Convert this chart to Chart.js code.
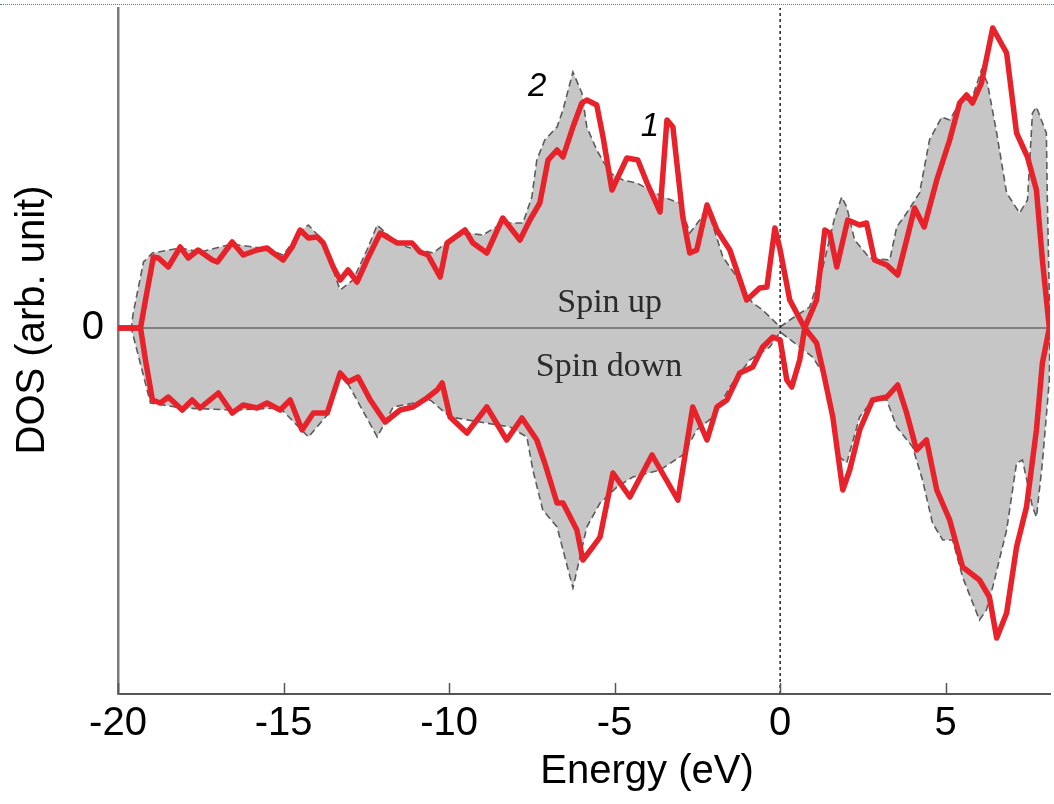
<!DOCTYPE html>
<html>
<head>
<meta charset="utf-8">
<script src="https://cdn.jsdelivr.net/npm/chart.js@4.4.1/dist/chart.umd.min.js"></script>
<style>
  html, body { margin: 0; padding: 0; background: #fff; }
  #wrap { position: relative; width: 1054px; height: 804px; }
  #topRule { position: absolute; left: 0; right: 0; top: 4px; border-top: 1px dotted #4f7f95; }
</style>
</head>
<body>
<div id="wrap">
  <canvas id="dosChart" width="1054" height="804"></canvas>
  <div id="topRule"></div>
</div>
<script>
// Energy axis (eV) and DOS values (arb. unit)
const xTicks = [-20, -15, -10, -5, 0, 5];
const yTicks = [0];
const xTitle = 'Energy (eV)';
const yTitle = 'DOS (arb. unit)';

// red curve, upper branch (spin up side)
const redUpE = [-20.0, -19.32, -19.17, -18.93, -18.78, -18.48, -18.12, -17.88, -17.58, -17.15, -17.00, -16.55, -16.22, -15.80, -15.50, -15.31, -15.01, -14.74, -14.50, -14.25, -13.98, -13.80, -13.50, -13.29, -13.05, -12.78, -12.48, -12.08, -11.87, -11.57, -11.12, -10.88, -10.64, -10.27, -10.06, -9.52, -9.28, -8.86, -8.38, -7.86, -7.56, -7.26, -7.01, -6.74, -6.56, -6.26, -5.99, -5.84, -5.54, -5.35, -5.08, -4.90, -4.63, -4.30, -4.02, -3.63, -3.42, -3.24, -2.94, -2.73, -2.52, -2.21, -1.91, -1.52, -1.01, -0.62, -0.40, -0.16, 0.0, 0.29, 0.74, 1.10, 1.35, 1.50, 1.71, 2.04, 2.40, 2.61, 2.85, 3.22, 3.55, 3.82, 4.06, 4.35, 4.73, 5.12, 5.42, 5.63, 5.81, 6.08, 6.42, 6.84, 7.14, 7.47, 7.74, 7.92, 8.13];
const redUpV = [0, 0, 28, 71, 70, 61, 81, 70, 78, 68, 66, 86, 73, 78, 80, 75, 68, 81, 98, 90, 91, 85, 61, 48, 58, 46, 68, 95, 91, 85, 85, 76, 73, 51, 85, 98, 85, 75, 110, 88, 108, 125, 168, 178, 171, 201, 225, 228, 223, 191, 138, 151, 170, 168, 145, 116, 208, 201, 111, 75, 78, 123, 98, 78, 28, 40, 41, 100, 78, 28, 0, 28, 98, 95, 61, 108, 103, 105, 68, 63, 53, 88, 120, 101, 148, 188, 225, 233, 225, 245, 300, 275, 195, 171, 138, 68, 0];

// red curve, lower branch (spin down side)
const redDnE = [-20.0, -19.32, -19.17, -18.96, -18.72, -18.48, -18.06, -17.76, -17.52, -16.97, -16.55, -16.22, -15.80, -15.50, -15.10, -14.80, -14.44, -14.10, -13.68, -13.29, -13.05, -12.75, -12.38, -11.93, -11.48, -11.09, -10.67, -10.36, -10.21, -9.97, -9.46, -8.86, -8.26, -7.80, -7.35, -7.11, -6.74, -6.56, -6.14, -5.96, -5.66, -5.44, -5.05, -4.54, -3.87, -3.09, -2.64, -2.21, -1.91, -1.61, -1.22, -0.83, -0.53, -0.22, 0.0, 0.20, 0.35, 0.59, 0.74, 1.10, 1.29, 1.59, 1.89, 2.10, 2.40, 2.79, 3.22, 3.55, 3.82, 4.12, 4.42, 4.73, 5.12, 5.51, 6.02, 6.32, 6.54, 6.84, 7.14, 7.44, 7.74, 7.92, 8.13];
const redDnV = [0, 0, -32, -72, -75, -69, -82, -72, -80, -65, -85, -77, -80, -75, -82, -72, -102, -85, -85, -45, -54, -49, -72, -94, -82, -79, -70, -62, -55, -89, -105, -79, -112, -90, -112, -135, -175, -175, -202, -232, -219, -209, -145, -169, -127, -172, -79, -112, -79, -72, -45, -39, -19, -9, -12, -52, -59, -32, 0, -15, -42, -89, -162, -142, -102, -72, -69, -57, -85, -122, -112, -162, -192, -239, -252, -269, -310, -285, -219, -179, -102, -35, 0];

// grey shaded curve, spin up
const grayUpE = [-20.0, -19.60, -19.54, -19.23, -18.96, -18.12, -17.52, -16.55, -15.50, -15.01, -14.50, -14.25, -13.83, -13.29, -12.90, -12.48, -12.17, -11.78, -11.27, -10.48, -10.06, -9.46, -8.98, -8.38, -7.77, -7.50, -7.35, -7.11, -6.74, -6.56, -6.26, -5.99, -5.84, -5.54, -5.14, -4.75, -4.33, -3.93, -3.54, -3.03, -2.73, -2.43, -2.21, -1.73, -1.31, -1.13, -0.83, -0.53, 0.0, 0.29, 0.89, 1.29, 1.65, 1.86, 2.01, 2.25, 2.70, 3.31, 3.52, 3.82, 4.21, 4.51, 4.88, 5.12, 5.42, 5.81, 6.08, 6.26, 6.54, 6.84, 7.23, 7.47, 7.62, 7.74, 8.04, 8.07, 8.15];
const grayUpV = [0, 0, 15, 66, 75, 80, 76, 84, 79, 73, 96, 103, 88, 38, 48, 78, 103, 91, 81, 75, 86, 95, 93, 105, 105, 131, 168, 188, 201, 218, 256, 235, 201, 178, 155, 148, 145, 138, 131, 125, 95, 108, 121, 71, 51, 38, 25, 18, 1, 8, 21, 61, 111, 131, 121, 88, 70, 68, 101, 115, 135, 188, 211, 208, 225, 231, 258, 245, 195, 135, 115, 128, 215, 221, 195, 128, 0];

// grey shaded curve, spin down
const grayDnE = [-20.0, -19.60, -19.02, -18.06, -16.55, -15.10, -14.25, -13.68, -13.29, -12.90, -12.17, -11.69, -10.57, -9.97, -9.07, -8.16, -7.65, -7.47, -7.17, -6.74, -6.26, -5.84, -5.44, -4.93, -4.45, -3.63, -2.94, -2.52, -2.03, -1.52, -0.92, -0.31, 0.0, 0.98, 1.29, 1.80, 2.01, 2.40, 2.79, 3.22, 3.52, 4.00, 4.30, 4.60, 4.91, 5.21, 5.51, 6.02, 6.23, 6.42, 6.84, 7.14, 7.32, 7.62, 7.74, 7.92, 8.13, 8.15];
const grayDnV = [0, 0, -75, -80, -82, -80, -109, -87, -42, -65, -109, -79, -72, -89, -94, -99, -109, -142, -182, -199, -260, -199, -175, -159, -149, -142, -127, -102, -89, -59, -32, -19, -4, -29, -45, -129, -135, -89, -72, -72, -99, -119, -152, -195, -212, -212, -249, -292, -282, -259, -202, -135, -132, -179, -189, -135, -52, 0];

// axis limits and reference lines
const xMin = -20, xMax = 8.15;
const yMin = -366, yMax = 320;
const zeroE = [xMin, xMax], zeroV = [0, 0];
const fermiE = [0, 0], fermiV = [yMin, yMax];

// labels inside the plot
const noteText = ['2', '1', 'Spin up', 'Spin down'];
const noteE = [-7.34, -3.93, -5.15, -5.17];
const noteV = [241, 201, 25, -39];

const pts = (es, vs) => es.map((e, i) => ({ x: e, y: vs[i] }));

const SANS = '"Liberation Sans", Arial, sans-serif';
const SERIF = '"Liberation Serif", "Times New Roman", serif';

const overlay = {
    id: 'overlay',
    afterDraw(chart) {
        const { ctx, chartArea, scales: { x, y } } = chart;
        ctx.save();
        // tick marks point into the plot
        ctx.strokeStyle = '#555';
        ctx.lineWidth = 1.5;
        xTicks.forEach(v => {
            const px = Math.round(x.getPixelForValue(v)) + 0.5;
            ctx.beginPath();
            ctx.moveTo(px, chartArea.bottom);
            ctx.lineTo(px, chartArea.bottom - 11);
            ctx.stroke();
        });

        // in-plot labels
        ctx.textAlign = 'center';
        ctx.textBaseline = 'middle';
        noteText.forEach((t, i) => {
            const isSpin = t.startsWith('Spin');
            ctx.font = isSpin ? '34px ' + SERIF : 'italic 33px ' + SANS;
            ctx.fillStyle = isSpin ? '#2b2b2b' : '#000';
            ctx.fillText(t, x.getPixelForValue(noteE[i]), y.getPixelForValue(noteV[i]));
        });

        // axis titles
        ctx.fillStyle = '#000';
        ctx.font = '40px ' + SANS;
        ctx.fillText(xTitle, 647, 772);
        ctx.translate(33, 320);
        ctx.rotate(-Math.PI / 2);
        ctx.fillText(yTitle, 0, 0);
        ctx.restore();
    }
};

const dosChart = new Chart(
    document.getElementById('dosChart'),
    {
        type: 'line',
        data: {
            datasets: [
                {
                    label: 'grey up',
                    data: pts(grayUpE, grayUpV),
                    borderColor: '#5c5c5c',
                    borderWidth: 1.6,
                    borderDash: [7, 4],
                    backgroundColor: '#c5c6c5',
                    fill: 'origin',
                    order: 6
                },
                {
                    label: 'grey down',
                    data: pts(grayDnE, grayDnV),
                    borderColor: '#5c5c5c',
                    borderWidth: 1.6,
                    borderDash: [7, 4],
                    backgroundColor: '#c5c6c5',
                    fill: 'origin',
                    order: 5
                },
                {
                    label: 'zero',
                    data: pts(zeroE, zeroV),
                    borderColor: '#6a6a6a',
                    borderWidth: 1.6,
                    fill: false,
                    order: 4
                },
                {
                    label: 'fermi',
                    data: pts(fermiE, fermiV),
                    borderColor: '#222',
                    borderWidth: 1.5,
                    borderDash: [3, 3],
                    fill: false,
                    order: 3
                },
                {
                    label: 'red up',
                    data: pts(redUpE, redUpV),
                    borderColor: '#e8222a',
                    borderWidth: 5.5,
                    borderJoinStyle: 'round',
                    fill: false,
                    order: 2
                },
                {
                    label: 'red down',
                    data: pts(redDnE, redDnV),
                    borderColor: '#e8222a',
                    borderWidth: 5.5,
                    borderJoinStyle: 'round',
                    fill: false,
                    order: 1
                }
            ]
        },
        options: {
            responsive: false,
            animation: false,
            devicePixelRatio: 1,
            elements: { point: { radius: 0 }, line: { tension: 0 } },
            layout: { padding: { top: 8, right: 4, left: 0, bottom: 0 } },
            plugins: { legend: { display: false }, tooltip: { enabled: false } },
            scales: {
                x: {
                    type: 'linear',
                    min: xMin,
                    max: xMax,
                    afterBuildTicks: s => { s.ticks = xTicks.map(v => ({ value: v })); },
                    afterFit: s => { s.height = 110; s.paddingLeft = 0; s.paddingRight = 0; },
                    grid: { display: false, drawTicks: false },
                    border: { display: true, color: '#555', width: 2 },
                    ticks: {
                        color: '#000',
                        padding: 6,
                        maxRotation: 0,
                        autoSkip: false,
                        font: { family: SANS, size: 40 },
                        callback: v => String(v)
                    }
                },
                y: {
                    type: 'linear',
                    min: yMin,
                    max: yMax,
                    afterBuildTicks: s => { s.ticks = yTicks.map(v => ({ value: v })); },
                    afterFit: s => { s.width = 118; s.paddingTop = 0; s.paddingBottom = 0; },
                    grid: { display: false, drawTicks: false },
                    border: { display: true, color: '#7a7a7a', width: 2.5 },
                    ticks: {
                        color: '#000',
                        padding: 14,
                        font: { family: SANS, size: 40 },
                        callback: v => String(v)
                    }
                }
            }
        },
        plugins: [overlay]
    }
);
</script>
</body>
</html>
